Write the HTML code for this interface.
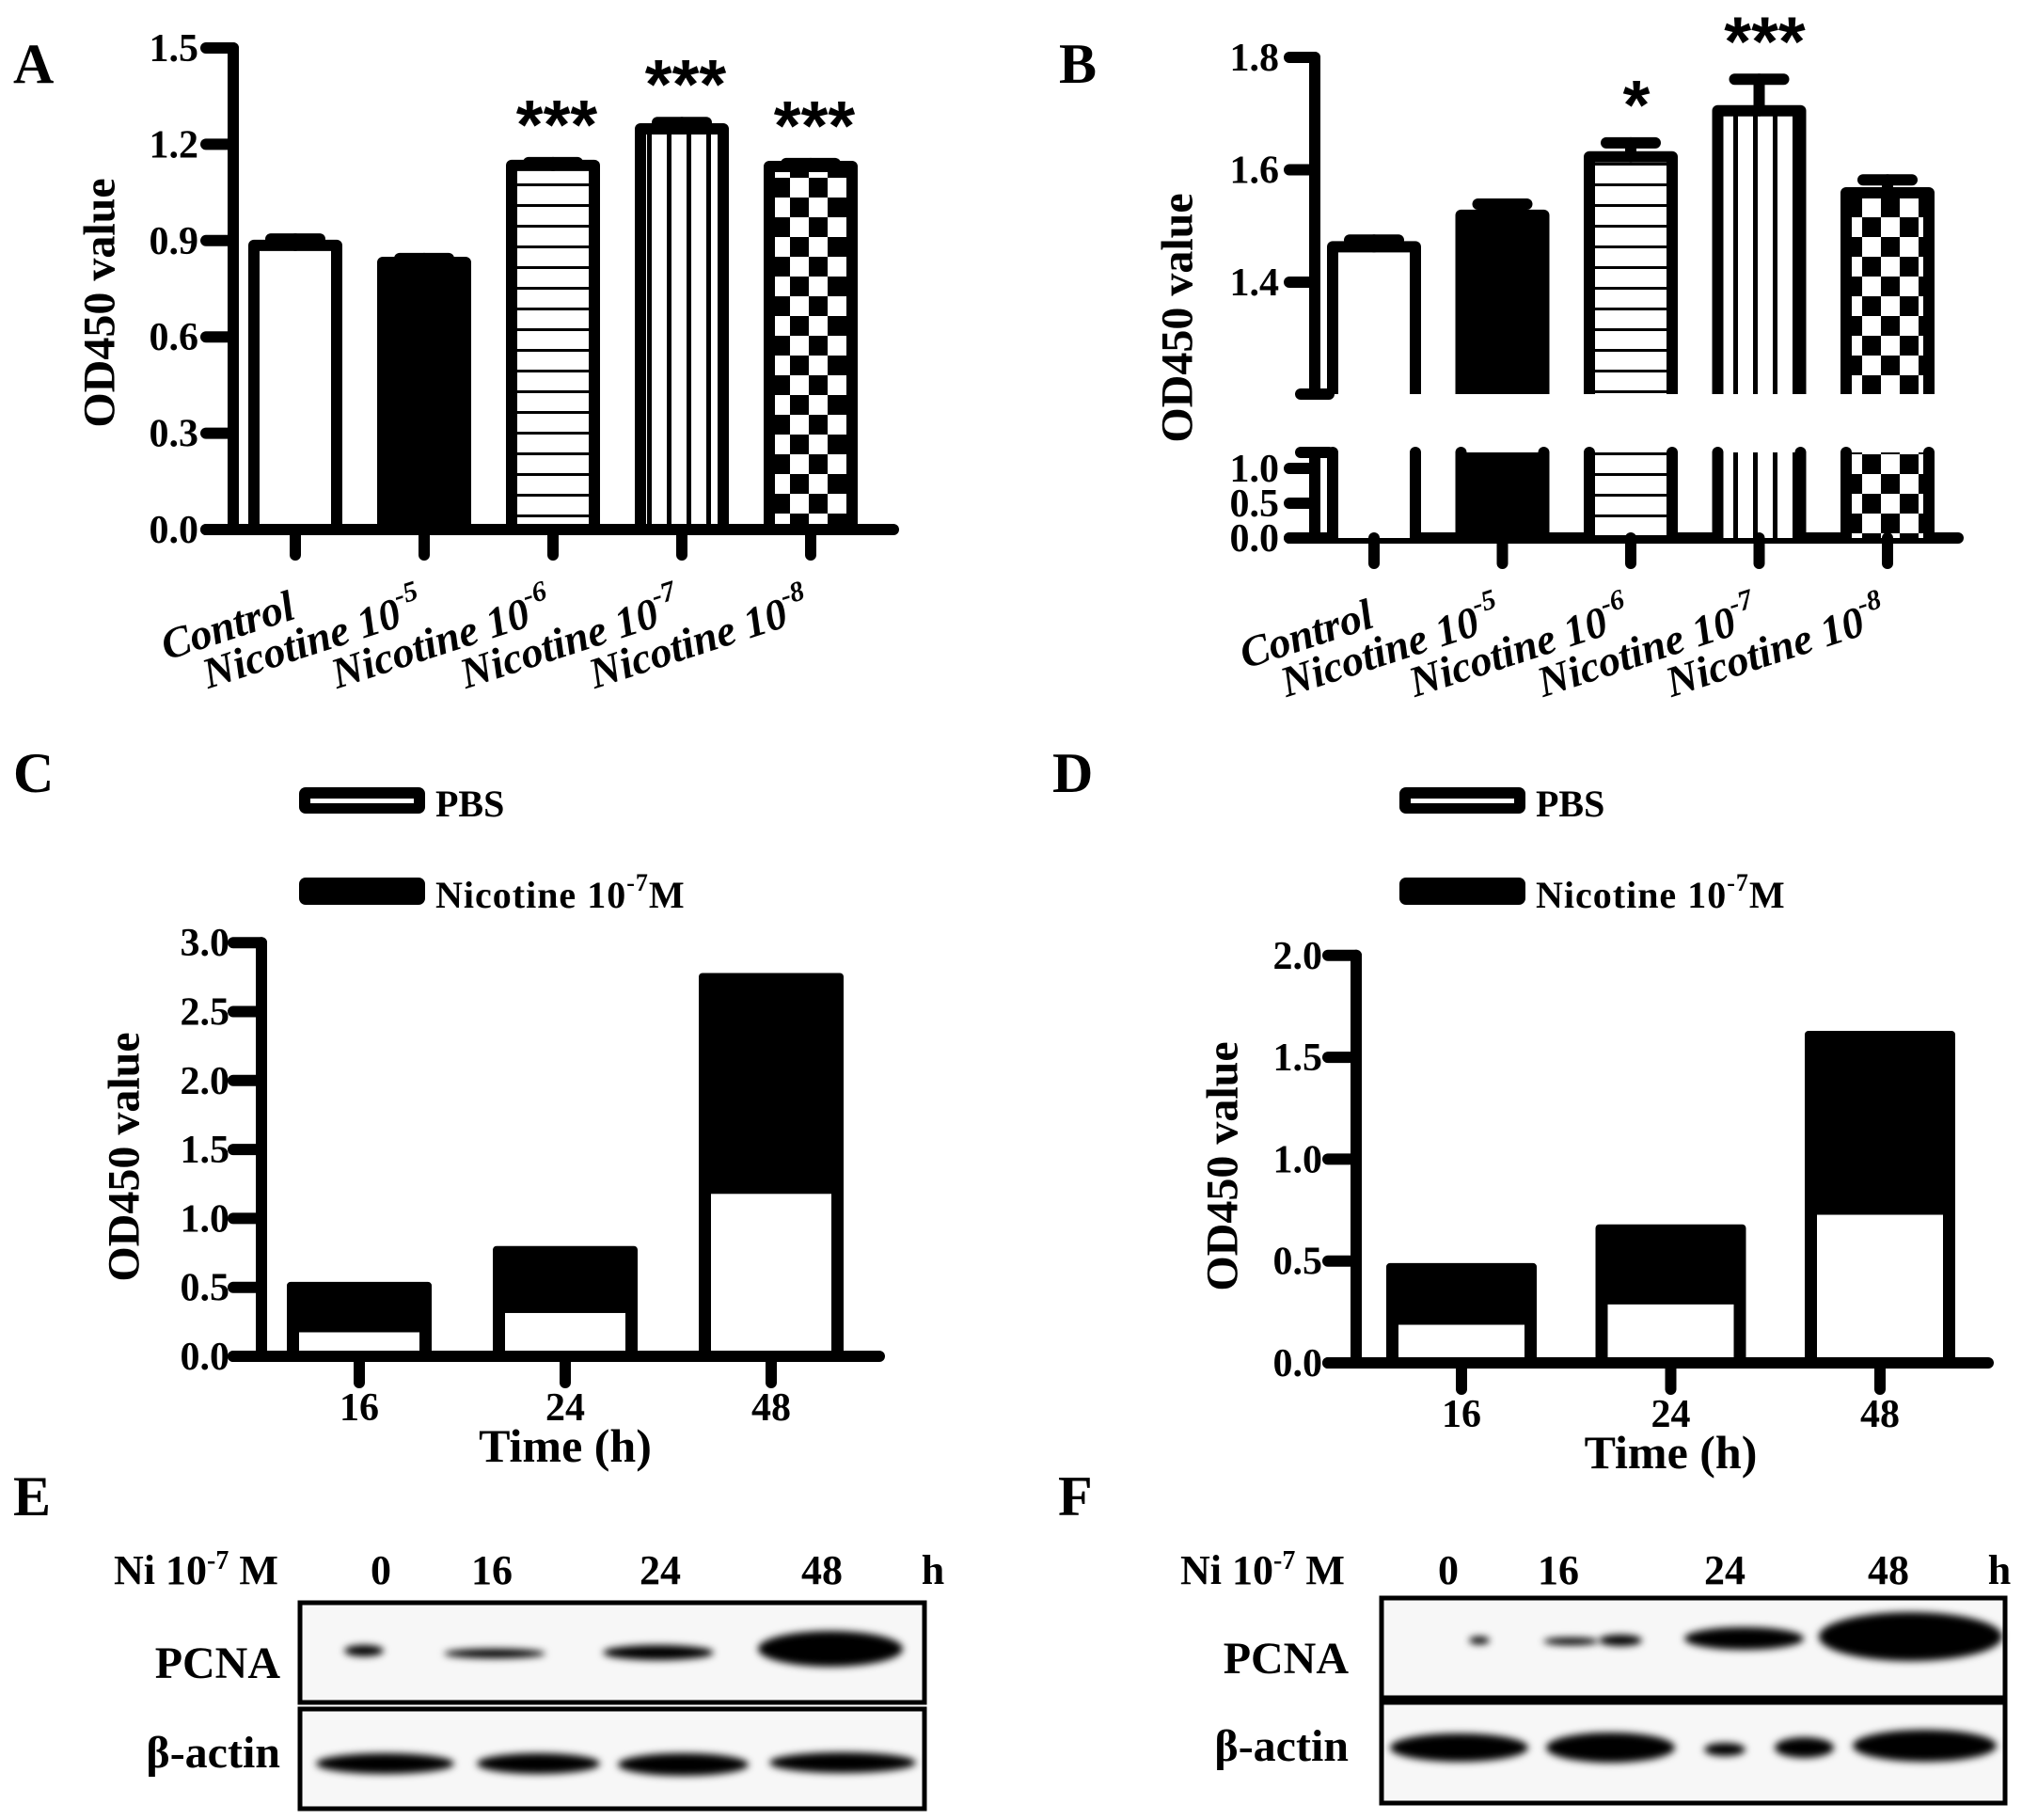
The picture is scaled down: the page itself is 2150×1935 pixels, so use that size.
<!DOCTYPE html>
<html><head><meta charset="utf-8"><style>
html,body{margin:0;padding:0;background:#fff;}
svg{display:block;font-family:"Liberation Serif",serif;font-weight:bold;}
</style></head><body>
<svg id="fig" width="2150" height="1935" viewBox="0 0 2150 1935" xmlns="http://www.w3.org/2000/svg">
<defs>
<pattern id="hstripe" patternUnits="userSpaceOnUse" width="20" height="22" y="0"><rect width="20" height="22" fill="#fff"/><rect y="19" width="20" height="3.5" fill="#000"/></pattern>
<pattern id="vstripe" patternUnits="userSpaceOnUse" width="21" height="20"><rect width="21" height="20" fill="#fff"/><rect x="16" width="5" height="20" fill="#000"/></pattern>
<pattern id="checker" patternUnits="userSpaceOnUse" width="40" height="42"><rect width="40" height="42" fill="#fff"/><rect width="20" height="21" fill="#000"/><rect x="20" y="21" width="20" height="21" fill="#000"/></pattern>
<filter id="blur" x="-30%" y="-150%" width="160%" height="400%"><feGaussianBlur stdDeviation="4"/></filter>
</defs>
<g id="root"></g>
</svg>
<script>
// ---- data ----
const catsAB = ["Control","Nicotine 10","Nicotine 10","Nicotine 10","Nicotine 10"];
const supAB = ["","-5","-6","-7","-8"];
const fillsAB = ["#fff","#000","url(#hstripe)","url(#vstripe)","url(#checker)"];
const valsA = [0.885, 0.832, 1.134, 1.248, 1.131];
const errA = [0.02, 0.012, 0.009, 0.02, 0.009];
const starsA = ["", "", "***", "***", "***"];
const ticksA = [0.0, 0.3, 0.6, 0.9, 1.2, 1.5];
const valsB = [1.463, 1.519, 1.623, 1.705, 1.559];
const errB = [0.012, 0.02, 0.025, 0.056, 0.023];
const starsB = ["", "", "*", "***", ""];
const ticksBUpper = [1.4, 1.6, 1.8];
const ticksBLower = [0.0, 0.5, 1.0];
const timeCats = ["16","24","48"];
const pbsC = [0.174, 0.314, 1.178];
const nicC = [0.54, 0.80, 2.78];
const ticksC = [0.0, 0.5, 1.0, 1.5, 2.0, 2.5, 3.0];
const pbsD = [0.187, 0.287, 0.727];
const nicD = [0.49, 0.68, 1.63];
const ticksD = [0.0, 0.5, 1.0, 1.5, 2.0];

const NS = "http://www.w3.org/2000/svg";
const root = document.getElementById('root');
function el(tag, attrs, parent, text){
  const e = document.createElementNS(NS, tag);
  for (const k in attrs) e.setAttribute(k, attrs[k]);
  if (text !== undefined) e.textContent = text;
  (parent || root).appendChild(e);
  return e;
}
function line(x1,y1,x2,y2,w,p){ return el('line',{x1,y1,x2,y2,stroke:'#000','stroke-width':w||12,'stroke-linecap':'round'},p); }

// ---- panel letters ----
[["A",14,88],["B",1126,88],["C",14,842],["D",1119,842],["E",14,1611],["F",1125,1611]].forEach(l=>{
  const t = el('text',{x:l[1],y:l[2],'font-size':60},root,l[0]);
  
  
});

// ---- Panel A ----
const gA = el('g',{});


const yA = v => 563 - v/0.3*102.4;
const xA = i => 314 + i*137;
ticksA.forEach(t=>{
  line(219, yA(t), 248, yA(t), 12, gA);
  const tx = el('text',{x:211,y:yA(t)+14,'text-anchor':'end','font-size':42},gA,t.toFixed(1));
  
  
});
line(248, yA(1.5), 248, 563, 12, gA);
line(219, 563, 950, 563, 12, gA);
valsA.forEach((v,i)=>{
  const cx = xA(i);
  const b = el('rect',{x:cx-44,y:yA(v),width:88,height:563-yA(v),fill:fillsAB[i],stroke:'#000','stroke-width':12,'stroke-linejoin':'round'},gA);
  
  
  line(cx, yA(v), cx, yA(v+errA[i]), 12, gA);
  line(cx-26, yA(v+errA[i]), cx+26, yA(v+errA[i]), 12, gA);
  line(cx, 563, cx, 590, 12, gA);
  if (starsA[i]) {
    const s = el('text',{x:cx+4,y:yA(v+errA[i])-15,'text-anchor':'middle','font-size':74,'font-family':'Liberation Sans, sans-serif'},gA,starsA[i]);
    
    
  }
  const lab = el('text',{'text-anchor':'end','font-size':46,'font-style':'italic',transform:`translate(${cx+2},657) rotate(-18)`},gA,catsAB[i]);
  if (supAB[i]) el('tspan',{'font-size':30,dy:-22},lab,supAB[i]);
  
  
});
const tA = el('text',{'text-anchor':'middle','dominant-baseline':'central','font-size':48,transform:'translate(106,322) rotate(-90)'},gA,'OD450 value');



// ---- Panel B (broken axis) ----
const gB = el('g',{});


const yBu = v => 300 - (v-1.4)/0.2*119.5;
const yBl = v => 572 - v/0.5*37;
const upBot = 419, loTop = 481, axB = 1398;
const xB = i => 1461 + i*136.5;
line(axB, yBu(1.8), axB, upBot, 12, gB);
line(axB, loTop, axB, 572, 12, gB);
line(1383, upBot, 1413, upBot, 12, gB);
line(1383, loTop, 1413, loTop, 12, gB);
ticksBUpper.forEach(t=>{
  line(1371, yBu(t), axB, yBu(t), 12, gB);
  const tx = el('text',{x:1360,y:yBu(t)+14,'text-anchor':'end','font-size':42},gB,t.toFixed(1));
  
  
});
ticksBLower.forEach(t=>{
  line(1371, yBl(t), axB, yBl(t), 12, gB);
  const tx = el('text',{x:1360,y:yBl(t)+14,'text-anchor':'end','font-size':42},gB,t.toFixed(1));
  
  
});
line(1371, 572, 2082, 572, 12, gB);
valsB.forEach((v,i)=>{
  const cx = xB(i), l = cx-44, r = cx+44;
  const top = yBu(v);
  el('rect',{x:l,y:top,width:88,height:upBot-top,fill:fillsAB[i]},gB);
  el('path',{d:`M${l},${upBot} L${l},${top} L${r},${top} L${r},${upBot}`,fill:'none',stroke:'#000','stroke-width':12,'stroke-linejoin':'round'},gB);
  el('rect',{x:l,y:loTop,width:88,height:572-loTop,fill:fillsAB[i]},gB);
  line(l, loTop, l, 572, 12, gB); line(r, loTop, r, 572, 12, gB);
  const hit = el('rect',{x:l-6,y:top-6,width:100,height:572-top+6,fill:'none'},gB);
  
  
  line(cx, top, cx, yBu(v+errB[i]), 12, gB);
  line(cx-26, yBu(v+errB[i]), cx+26, yBu(v+errB[i]), 12, gB);
  line(cx, 572, cx, 599, 12, gB);
  if (starsB[i]) {
    const s = el('text',{x:cx+6,y:yBu(v+errB[i])-15,'text-anchor':'middle','font-size':74,'font-family':'Liberation Sans, sans-serif'},gB,starsB[i]);
    
    
  }
  const lab = el('text',{'text-anchor':'end','font-size':46,'font-style':'italic',transform:`translate(${cx+2},666) rotate(-18)`},gB,catsAB[i]);
  if (supAB[i]) el('tspan',{'font-size':30,dy:-22},lab,supAB[i]);
  
  
});
const tB = el('text',{'text-anchor':'middle','dominant-baseline':'central','font-size':48,transform:'translate(1252,338) rotate(-90)'},gB,'OD450 value');



// ---- stacked charts C & D ----
function stacked(cfg){
  const g = el('g',{});
  
  
  const y = v => cfg.y0 - v/0.5*cfg.per;
  cfg.ticks.forEach(t=>{
    line(cfg.ax-30, y(t), cfg.ax, y(t), 12, g);
    const tx = el('text',{x:cfg.lblX,y:y(t)+14,'text-anchor':'end','font-size':42},g,t.toFixed(1));
    
    
  });
  line(cfg.ax, y(cfg.ticks[cfg.ticks.length-1]), cfg.ax, cfg.y0, 12, g);
  line(cfg.ax-30, cfg.y0, cfg.xEnd, cfg.y0, 12, g);
  timeCats.forEach((c,i)=>{
    const cx = cfg.x0 + i*cfg.step, hw = cfg.bw/2;
    const nb = el('rect',{x:cx-hw,y:y(cfg.nic[i]),width:cfg.bw,height:cfg.y0-y(cfg.nic[i]),rx:4,fill:'#000'},g);
    
    
    const pb = el('rect',{x:cx-hw+13,y:y(cfg.pbs[i]),width:cfg.bw-26,height:cfg.y0-y(cfg.pbs[i])-6,fill:'#fff'},g);
    
    
    line(cx, cfg.y0, cx, cfg.y0+28, 12, g);
    const tl = el('text',{x:cx,y:cfg.y0+68,'text-anchor':'middle','font-size':42},g,c);
    
    
  });
  const xt = el('text',{x:cfg.x0+cfg.step,y:cfg.y0+112,'text-anchor':'middle','font-size':50},g,'Time (h)');
  
  
  const yt = el('text',{'text-anchor':'middle','dominant-baseline':'central','font-size':48,transform:`translate(${cfg.titleX},${cfg.titleY}) rotate(-90)`},g,'OD450 value');
  
  
  const lg = el('g',{},g);
  
  
  el('rect',{x:cfg.legX,y:837,width:134,height:28,rx:7,fill:'#000'},lg);
  el('rect',{x:cfg.legX+12,y:849,width:110,height:5,fill:'#fff'},lg);
  el('text',{x:cfg.legX+145,y:868,'font-size':40},lg,'PBS');
  el('rect',{x:cfg.legX,y:933,width:134,height:29,rx:7,fill:'#000'},lg);
  const nt = el('text',{x:cfg.legX+145,y:965,'font-size':40,'letter-spacing':1},lg,'Nicotine 10');
  el('tspan',{'font-size':26,dy:-18},nt,'-7');
  el('tspan',{dy:18},nt,'M');
}
stacked({name:'panel-c-chart',y0:1442,per:73.3,ax:278,lblX:244,xEnd:935,x0:382,step:219,bw:154,
  ticks:ticksC,pbs:pbsC,nic:nicC,titleX:132,titleY:1230,legX:318});
stacked({name:'panel-d-chart',y0:1449,per:108.3,ax:1442,lblX:1406,xEnd:2114,x0:1554,step:222.5,bw:160,
  ticks:ticksD,pbs:pbsD,nic:nicD,titleX:1300,titleY:1240,legX:1488});

// ---- western blots ----
function blot(cfg){
  const g = el('g',{});
  
  
  const hd = el('text',{x:cfg.hdX,y:1684,'font-size':44},g,'Ni 10');
  el('tspan',{'font-size':28,dy:-16},hd,'-7');
  el('tspan',{dy:16},hd,' M');
  cfg.lanes.forEach((t,i)=>{
    const lt = el('text',{x:cfg.laneX[i],y:1684,'text-anchor':'middle','font-size':44},g,t);
    
    
  });
  const b1 = el('rect',{x:cfg.box[0],y:cfg.p[0],width:cfg.box[1]-cfg.box[0],height:cfg.p[1]-cfg.p[0],fill:'#f7f7f7',stroke:'#000','stroke-width':5},g);
  
  
  const b2 = el('rect',{x:cfg.box[0],y:cfg.a[0],width:cfg.box[1]-cfg.box[0],height:cfg.a[1]-cfg.a[0],fill:'#f7f7f7',stroke:'#000','stroke-width':5},g);
  
  
  el('text',{x:cfg.lblR,y:cfg.p[0]+80,'text-anchor':'end','font-size':48},g,'PCNA');
  el('text',{x:cfg.lblR,y:cfg.a[0]+62,'text-anchor':'end','font-size':48},g,'β-actin');
  cfg.bands.forEach(b=>{
    const e = el('ellipse',{cx:(b[0]+b[1])/2,cy:b[2],rx:(b[1]-b[0])/2,ry:b[3],fill:'#000',filter:'url(#blur)'},g);
    
    
  });
}
blot({name:'blot-e',hdX:121,lanes:["0","16","24","48","h"],laneX:[405,523,702,874,992],
  box:[319,983],p:[1704,1810],a:[1817,1923],lblR:298,
  bands:[[366,408,1755,6],[472,580,1758,5],[641,759,1757,8],[806,960,1753,19],
         [336,483,1875,11],[507,638,1875,11],[657,796,1876,12],[818,974,1874,11]]});
blot({name:'blot-f',hdX:1255,lanes:["0","16","24","48","h"],laneX:[1540,1657,1834,2008,2126],
  box:[1469,2132],p:[1699,1805],a:[1810,1917],lblR:1434,
  bands:[[1562,1584,1744,4],[1641,1700,1745,4],[1700,1746,1744,6],[1791,1918,1742,12],[1934,2129,1740,26],
         [1478,1625,1858,15],[1644,1781,1858,16],[1812,1856,1860,7],[1887,1950,1858,11],[1970,2123,1856,17]]});
</script>
</body></html>
